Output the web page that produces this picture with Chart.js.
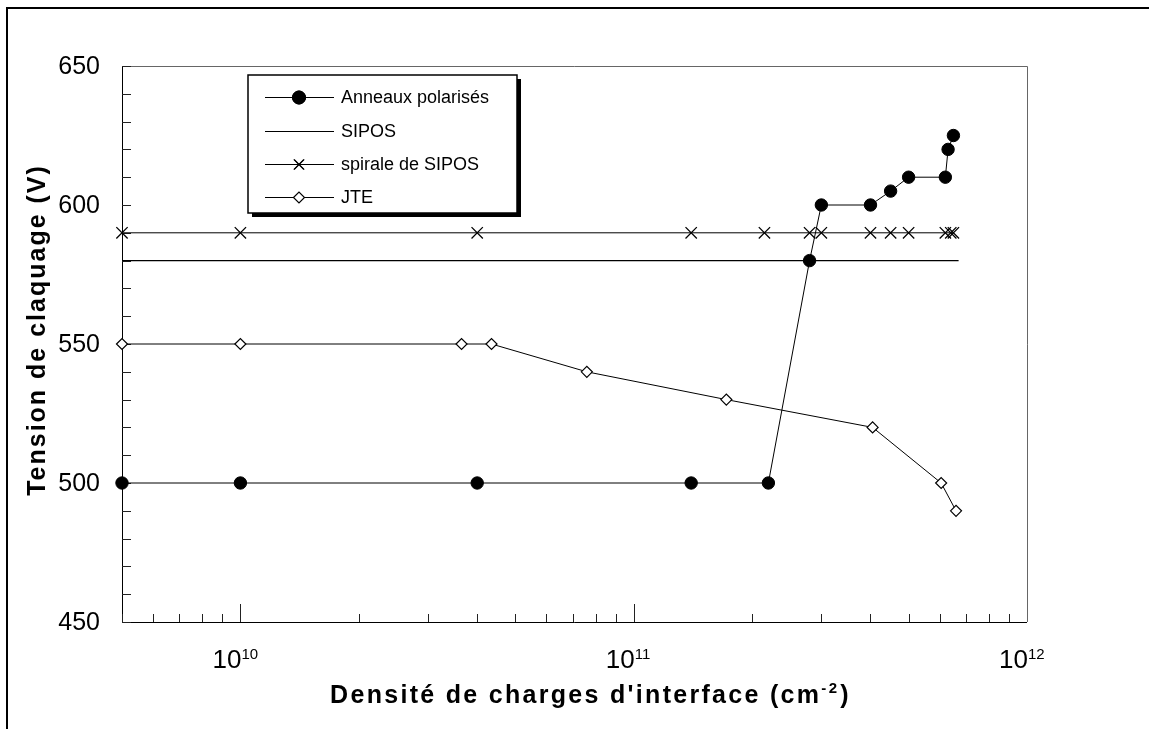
<!DOCTYPE html>
<html>
<head>
<meta charset="utf-8">
<script src="https://cdn.jsdelivr.net/npm/chart.js@4/dist/chart.umd.min.js"></script>
<style>
  html, body { margin: 0; padding: 0; background: #fff; }
  #wrap { width: 1149px; height: 729px; }
</style>
</head>
<body>
<div id="wrap"><canvas id="chart" width="1149" height="729"></canvas></div>
<script>
// Tension de claquage vs densité de charges d'interface

const anneauxX = [5e9, 1e10, 4e10, 1.4e11, 2.2e11, 2.8e11, 3.0e11, 4.0e11, 4.5e11, 5.0e11, 6.2e11, 6.3e11, 6.5e11];
const anneauxY = [500, 500, 500, 500, 500, 580, 600, 600, 605, 610, 610, 620, 625];

const siposX = [5e9, 6.7e11];
const siposY = [580, 580];

const spiraleX = [5e9, 1e10, 4e10, 1.4e11, 2.15e11, 2.8e11, 3.0e11, 4.0e11, 4.5e11, 5.0e11, 6.2e11, 6.4e11, 6.5e11];
const spiraleY = [590, 590, 590, 590, 590, 590, 590, 590, 590, 590, 590, 590, 590];

const jteX = [5e9, 1e10, 3.65e10, 4.35e10, 7.6e10, 1.72e11, 4.05e11, 6.05e11, 6.6e11];
const jteY = [550, 550, 550, 550, 540, 530, 520, 500, 490];

const yTicks = [450, 500, 550, 600, 650];
const xTickExps = [10, 11, 12];

const yTitle = 'Tension de claquage (V)';
const xTitle = 'Densité de charges d\'interface (cm';
const xTitleSup = '-2';

const FONT = '"Liberation Sans", Arial, Helvetica, sans-serif';

function pts(xs, ys) {
  return xs.map((x, i) => ({ x: x, y: ys[i] }));
}

// frame, inward ticks, tick labels, titles, legend
const decor = {
  id: 'decor',
  beforeDatasetsDraw(chart) {
    const ctx = chart.ctx;
    const a = chart.chartArea;
    const xs = chart.scales.x, ys = chart.scales.y;
    ctx.save();
    // page frame
    ctx.strokeStyle = '#000';
    ctx.lineWidth = 2;
    ctx.beginPath();
    ctx.moveTo(7, 729); ctx.lineTo(7, 8); ctx.lineTo(1149, 8);
    ctx.stroke();

    // plot frame
    ctx.lineWidth = 1;
    ctx.strokeStyle = '#666';
    ctx.beginPath();
    ctx.moveTo(a.left, a.top + 0.5); ctx.lineTo(a.right + 0.5, a.top + 0.5); ctx.lineTo(a.right + 0.5, a.bottom);
    ctx.stroke();
    ctx.strokeStyle = '#000';
    ctx.beginPath();
    ctx.moveTo(a.left + 0.5, a.top); ctx.lineTo(a.left + 0.5, a.bottom + 0.5); ctx.lineTo(a.right, a.bottom + 0.5);
    ctx.stroke();

    // y minor ticks every 10
    ctx.strokeStyle = '#222';
    for (let v = 450; v <= 650; v += 10) {
      const py = Math.round(ys.getPixelForValue(v)) + 0.5;
      ctx.beginPath();
      ctx.moveTo(a.left, py); ctx.lineTo(a.left + 9, py);
      ctx.stroke();
    }
    // x ticks 1..9 per decade
    for (let d = 9; d <= 11; d++) {
      for (let m = 1; m <= 9; m++) {
        const v = m * Math.pow(10, d);
        if (v < xs.min || v > xs.max) continue;
        const px = Math.round(xs.getPixelForValue(v)) + 0.5;
        const len = m === 1 ? 18 : 8;
        ctx.beginPath();
        ctx.moveTo(px, a.bottom); ctx.lineTo(px, a.bottom - len);
        ctx.stroke();
      }
    }

    // y tick labels
    ctx.fillStyle = '#000';
    ctx.font = '25px ' + FONT;
    ctx.textAlign = 'right';
    ctx.textBaseline = 'middle';
    yTicks.forEach(v => {
      ctx.fillText(String(v), 100, ys.getPixelForValue(v) + 1);
    });

    // x tick labels 10^n
    ctx.textBaseline = 'alphabetic';
    xTickExps.forEach(e => {
      const px = xs.getPixelForValue(Math.pow(10, e));
      ctx.font = '26px ' + FONT;
      ctx.textAlign = 'right';
      ctx.fillText('10', px + 1, 668);
      ctx.font = '15px ' + FONT;
      ctx.textAlign = 'left';
      ctx.fillText(String(e), px + 1, 659);
    });

    // axis titles
    ctx.font = 'bold 25px ' + FONT;
    ctx.letterSpacing = '2.3px';
    ctx.textAlign = 'left';
    const mainW = ctx.measureText(xTitle).width;
    ctx.font = 'bold 15px ' + FONT;
    const supW = ctx.measureText(xTitleSup).width;
    ctx.font = 'bold 25px ' + FONT;
    const closeW = ctx.measureText(')').width;
    let tx = 590 - (mainW + supW + closeW) / 2;
    ctx.fillText(xTitle, tx, 703);
    ctx.font = 'bold 15px ' + FONT;
    ctx.fillText(xTitleSup, tx + mainW, 693);
    ctx.font = 'bold 25px ' + FONT;
    ctx.fillText(')', tx + mainW + supW + 1, 703);

    ctx.letterSpacing = '2px';
    ctx.save();
    ctx.translate(38, 330);
    ctx.rotate(-Math.PI / 2);
    ctx.textAlign = 'center';
    ctx.textBaseline = 'middle';
    ctx.fillText(yTitle, 0, 0);
    ctx.restore();
    ctx.letterSpacing = '0px';
    ctx.restore();
  },
  afterDraw(chart) {
    const ctx = chart.ctx;
    ctx.save();
    const bx = 248, by = 75, bw = 269, bh = 138;
    // shadow
    ctx.fillStyle = '#000';
    ctx.fillRect(bx + 4, by + 4, bw, bh);
    ctx.fillStyle = '#fff';
    ctx.fillRect(bx, by, bw, bh);
    ctx.strokeStyle = '#000';
    ctx.lineWidth = 1.5;
    ctx.strokeRect(bx, by, bw, bh);

    const rows = [97, 131, 164, 197];
    ctx.font = '18px ' + FONT;
    ctx.textAlign = 'left';
    ctx.textBaseline = 'middle';
    chart.data.datasets.forEach((ds, i) => {
      const ry = rows[ds.legendRow];
      ctx.strokeStyle = '#000';
      ctx.lineWidth = 1;
      ctx.beginPath();
      ctx.moveTo(265, ry + 0.5); ctx.lineTo(334, ry + 0.5);
      ctx.stroke();
      if (ds.pointRadius > 0) {
        Chart.helpers.drawPoint(ctx, {
          pointStyle: ds.pointStyle,
          radius: ds.legendRadius,
          borderWidth: ds.pointBorderWidth,
          rotation: 0
        }, 299, ry + 0.5);
        ctx.fillStyle = ds.pointBackgroundColor;
        ctx.strokeStyle = '#000';
        ctx.lineWidth = ds.pointBorderWidth;
        ctx.fill();
        ctx.stroke();
      }
      ctx.fillStyle = '#000';
      ctx.fillText(ds.label, 341, ry + 1);
    });
    ctx.restore();
  }
};

const common = {
  showLine: true,
  borderColor: '#000',
  borderWidth: 1,
  pointBorderColor: '#000',
  clip: false,
  tension: 0
};

new Chart(document.getElementById('chart'), {
  type: 'scatter',
  data: {
    datasets: [
      Object.assign({}, common, {
        label: 'JTE', legendRow: 3, legendRadius: 5.5,
        data: pts(jteX, jteY),
        pointStyle: 'rectRot', pointRadius: 5.5, pointBorderWidth: 1.2,
        pointBackgroundColor: '#fff'
      }),
      Object.assign({}, common, {
        label: 'spirale de SIPOS', legendRow: 2, legendRadius: 7,
        data: pts(spiraleX, spiraleY),
        pointStyle: 'crossRot', pointRadius: 8, pointBorderWidth: 1.3,
        pointBackgroundColor: '#000'
      }),
      Object.assign({}, common, {
        label: 'SIPOS', legendRow: 1, legendRadius: 0,
        data: pts(siposX, siposY),
        pointRadius: 0, borderWidth: 1.2
      }),
      Object.assign({}, common, {
        label: 'Anneaux polarisés', legendRow: 0, legendRadius: 6.5,
        data: pts(anneauxX, anneauxY),
        pointStyle: 'circle', pointRadius: 6.2, pointBorderWidth: 1,
        pointBackgroundColor: '#000'
      })
    ]
  },
  options: {
    responsive: false,
    animation: false,
    events: [],
    layout: { padding: { left: 122, top: 66, right: 122, bottom: 107 } },
    plugins: { legend: { display: false }, tooltip: { enabled: false } },
    scales: {
      x: { type: 'logarithmic', min: 5e9, max: 1e12, display: false },
      y: { type: 'linear', min: 450, max: 650, display: false }
    }
  },
  plugins: [decor]
});
</script>
</body>
</html>
